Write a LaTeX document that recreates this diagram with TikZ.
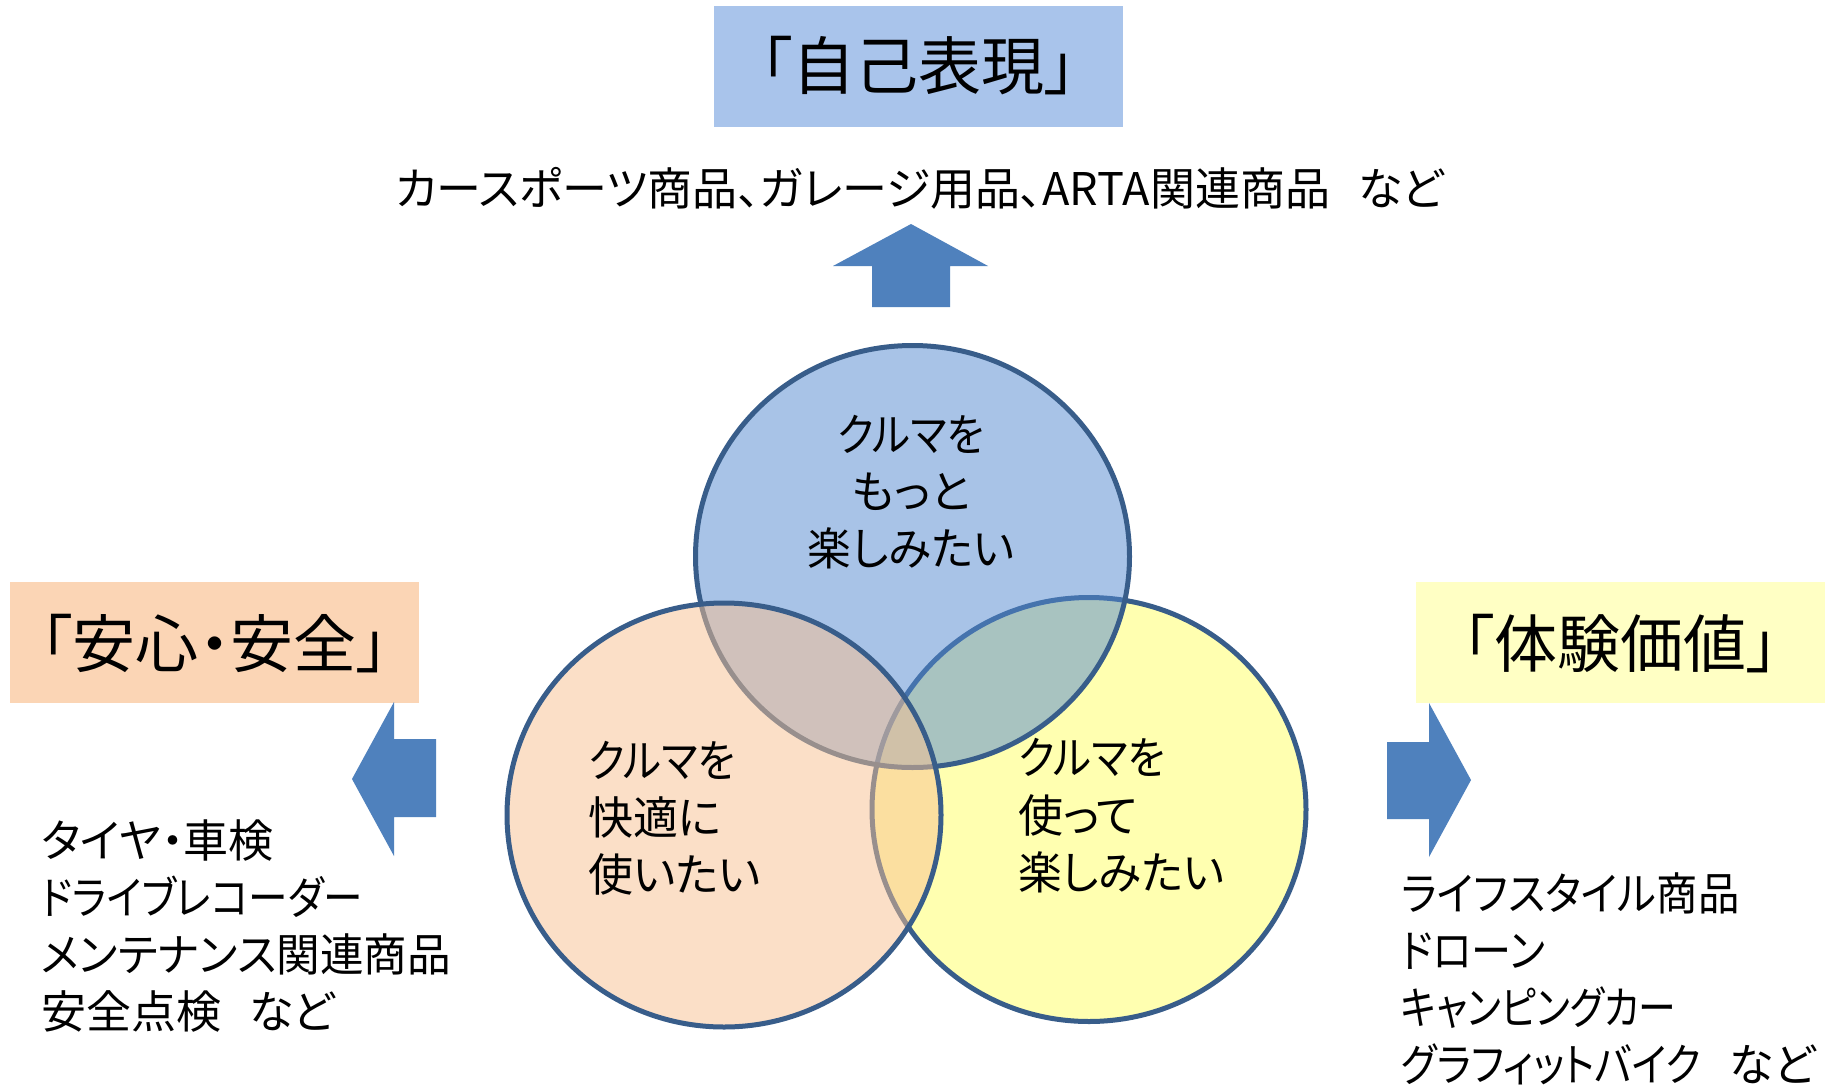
\documentclass[tikz,border=0pt]{standalone}
\usepackage{graphicx}
\usepackage{fontspec}
\setmainfont{Noto Sans CJK JP}[RawFeature={+palt}]
\definecolor{boxblue}{RGB}{169,196,235}
\definecolor{boxorange}{RGB}{251,213,181}
\definecolor{boxyellow}{RGB}{255,255,196}
\definecolor{arrowblue}{RGB}{79,129,189}
\definecolor{ringline}{RGB}{56,93,138}
\definecolor{fillyellow}{RGB}{255,255,176}
\definecolor{fillblue}{RGB}{83,137,209}
\definecolor{fillorange}{RGB}{249,193,145}
\newcommand{\sxw}[2]{\scalebox{#1}[1]{#2}}
\newcommand{\gapsp}{\hspace{0.62em}}
\tikzset{
  titletext/.style={font=\fontsize{63}{70}\selectfont, anchor=base, inner sep=0pt},
  bodytext/.style={font=\fontsize{45}{57}\selectfont, inner sep=0pt},
  ring/.style={draw=ringline, line width=5pt},
  blockarrow/.style={fill=arrowblue, draw=none}
}
\begin{document}
\begin{tikzpicture}[x=1pt,y=-1pt]
\path[use as bounding box, fill=white] (0,0) rectangle (1833,1087);

% title boxes
\fill[boxblue] (714,6) rectangle (1123,127);
\fill[boxorange] (10,582) rectangle (419,703);
\fill[boxyellow] (1416,582) rectangle (1825,703);
\node[titletext] (t1) at (918.5,89) {「自己表現」};
\node[titletext] (t2) at (214.5,667) {「安心・安全」};
\node[titletext] (t3) at (1620.5,667) {「体験価値」};

% subtitle
\node[bodytext, anchor=base] (sub) at (919.5,205) {カースポーツ商品、ガレージ用品、ARTA関連商品\gapsp など};

% arrows
\path[blockarrow] (911,224) -- (988,266) -- (950,266) -- (950,307) -- (872,307) -- (872,266) -- (833,266) -- cycle;
\path[blockarrow] (352,779) -- (394,702) -- (394,739) -- (436,739) -- (436,817) -- (394,817) -- (394,856) -- cycle;
\path[blockarrow] (1471,780) -- (1429,703) -- (1429,742) -- (1387,742) -- (1387,819) -- (1429,819) -- (1429,857) -- cycle;

% circles
\path[ring, fill=fillyellow] (1089,809.5) ellipse [x radius=217, y radius=212];
\path[ring, fill=fillblue, fill opacity=0.5] (912.5,556.5) ellipse [x radius=217, y radius=211];
\path[ring, fill=fillorange, fill opacity=0.5] (724,815) ellipse [x radius=217, y radius=212];

% circle texts
\node[bodytext, anchor=base] (c1a) at (911,451) {\sxw{0.9}{クルマを}};
\node[bodytext, anchor=base] (c1b) at (911,508) {もっと};
\node[bodytext, anchor=base] (c1c) at (911,565) {\sxw{0.97}{楽しみたい}};

\node[bodytext, anchor=base west] (c2a) at (588,777) {\sxw{0.9}{クルマを}};
\node[bodytext, anchor=base west] (c2b) at (588,834) {快適に};
\node[bodytext, anchor=base west] (c2c) at (588,891) {使いたい};

\node[bodytext, anchor=base west] (c3a) at (1018,774) {\sxw{0.9}{クルマを}};
\node[bodytext, anchor=base west] (c3b) at (1018,832) {使って};
\node[bodytext, anchor=base west] (c3c) at (1018,889) {\sxw{0.97}{楽しみたい}};

% side lists
\node[bodytext, anchor=base west] (l1) at (41,857) {タイヤ・車検};
\node[bodytext, anchor=base west] (l2) at (41,914) {\sxw{0.88}{ドライブレコーダー}};
\node[bodytext, anchor=base west] (l3) at (41,971) {\sxw{0.97}{メンテナンス関連商品}};
\node[bodytext, anchor=base west] (l4) at (41,1028) {安全点検\gapsp など};

\node[bodytext, anchor=base west] (r1) at (1401,910) {\sxw{0.92}{ライフスタイル商品}};
\node[bodytext, anchor=base west] (r2) at (1401,967) {\sxw{0.89}{ドローン}};
\node[bodytext, anchor=base west] (r3) at (1401,1024) {\sxw{0.84}{キャンピングカー}};
\node[bodytext, anchor=base west] (r4) at (1401,1081) {\sxw{0.876}{グラフィットバイク}\gapsp など};
\end{tikzpicture}
\end{document}
